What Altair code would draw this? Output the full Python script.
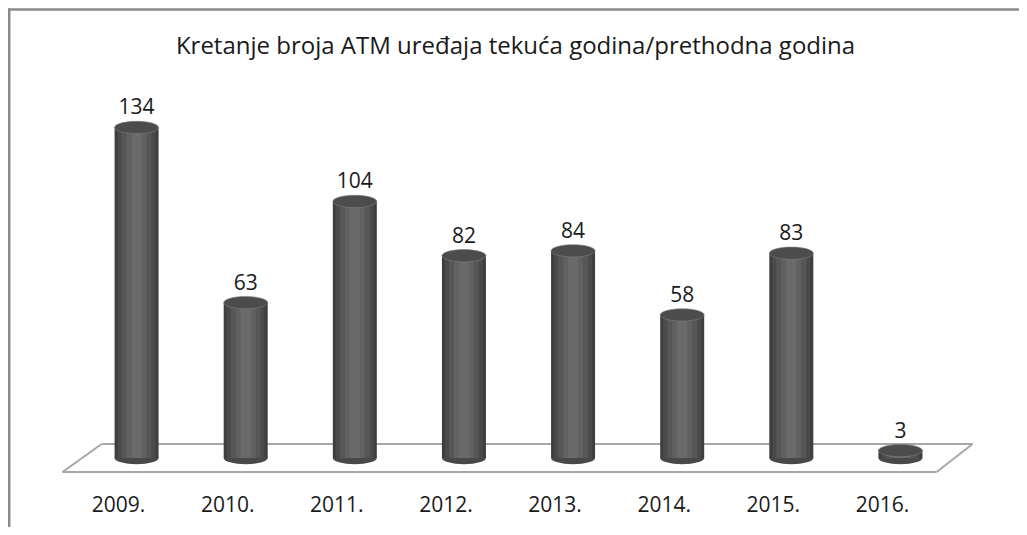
import altair as alt
import pandas as pd

years = ["2009.", "2010.", "2011.", "2012.", "2013.", "2014.", "2015.", "2016."]
values = [134, 63, 104, 82, 84, 58, 83, 3]
title_text = "Kretanje broja ATM uređaja tekuća godina/prethodna godina"

df = pd.DataFrame({"year": years, "value": values, "zero": [0] * len(years)})

FONT = "Open Sans"
W, H = 873, 370

ellipse = ("M -1 0 C -1 -0.155 -0.552 -0.28 0 -0.28 C 0.552 -0.28 1 -0.155 1 0 "
           "C 1 0.155 0.552 0.28 0 0.28 C -0.552 0.28 -1 0.155 -1 0 Z")

xs = alt.X("year:N", sort=years, title=None,
           scale=alt.Scale(paddingInner=0, paddingOuter=0),
           axis=alt.Axis(domain=False, ticks=False, tickSize=0, labelAngle=0,
                         labelFont=FONT, labelFontSize=21, labelColor="#1a1a1a",
                         labelBaseline="middle", labelPadding=47, labelOffset=-18,
                         grid=False))
yscale = alt.Scale(domain=[0, 150], nice=False, zero=True)
ys = alt.Y("value:Q", scale=yscale, axis=None, title=None)
yz = alt.Y("zero:Q", scale=yscale, axis=None, title=None)

base = alt.Chart(df)
one = pd.DataFrame({"k": [0]})
title_df = pd.DataFrame({"t": [title_text]})

floor_style = dict(color="#a6a6a6", strokeWidth=2)
floor = [
    alt.Chart(one).mark_rule(**floor_style).encode(
        x=alt.value(19.6), x2=alt.value(890.6), y=alt.value(356)),
    alt.Chart(one).mark_rule(**floor_style).encode(
        x=alt.value(-19.4), x2=alt.value(854.6), y=alt.value(384)),
    alt.Chart(one).mark_rule(**floor_style).encode(
        x=alt.value(-19.4), x2=alt.value(19.6), y=alt.value(384), y2=alt.value(356)),
    alt.Chart(one).mark_rule(**floor_style).encode(
        x=alt.value(854.6), x2=alt.value(890.6), y=alt.value(384), y2=alt.value(356)),
]

bottoms = base.mark_point(shape=ellipse, size=44 * 44, filled=True,
                          color="#484848", opacity=1).encode(x=xs, y=yz)

stripes = []
for wdt, col in [(44, "#3e3e3e"), (38, "#4a4a4a"), (30, "#565656"),
                 (20, "#616161"), (10, "#6a6a6a")]:
    stripes.append(base.mark_bar(size=wdt, color=col).encode(x=xs, y=ys, y2=alt.Y2("zero:Q")))

caps = base.mark_point(shape=ellipse, size=44 * 44, filled=True,
                       color="#4c4c4c", opacity=1, stroke="#808080",
                       strokeWidth=0.6).encode(x=xs, y=ys)

labels = base.mark_text(font=FONT, fontSize=21, color="#1a1a1a",
                        baseline="middle", dy=-19).encode(
    x=xs, y=ys, text="value:Q")

title = alt.Chart(title_df).mark_text(
    font=FONT, fontSize=24, color="#1a1a1a", baseline="alphabetic", align="center"
).encode(x=alt.value(433.5), y=alt.value(-34), text="t:N")

top_border = alt.Chart(one).mark_rule(color="#8a8a8a", strokeWidth=2.5).encode(
    x=alt.value(-74), x2=alt.value(937), y=alt.value(-78.5))
left_border = alt.Chart(one).mark_rule(color="#8a8a8a", strokeWidth=2.5).encode(
    x=alt.value(-72.8), y=alt.value(-79.5), y2=alt.value(439))

chart = alt.layer(*floor, bottoms, *stripes, caps, labels, title,
                  top_border, left_border).properties(
    width=W, height=H,
    autosize=alt.AutoSizeParams(type="none"),
    padding={"left": 74, "top": 80, "right": 64, "bottom": 69},
).configure_view(strokeWidth=0)

chart.save("out.html", embed_options={"renderer": "svg", "actions": False})
